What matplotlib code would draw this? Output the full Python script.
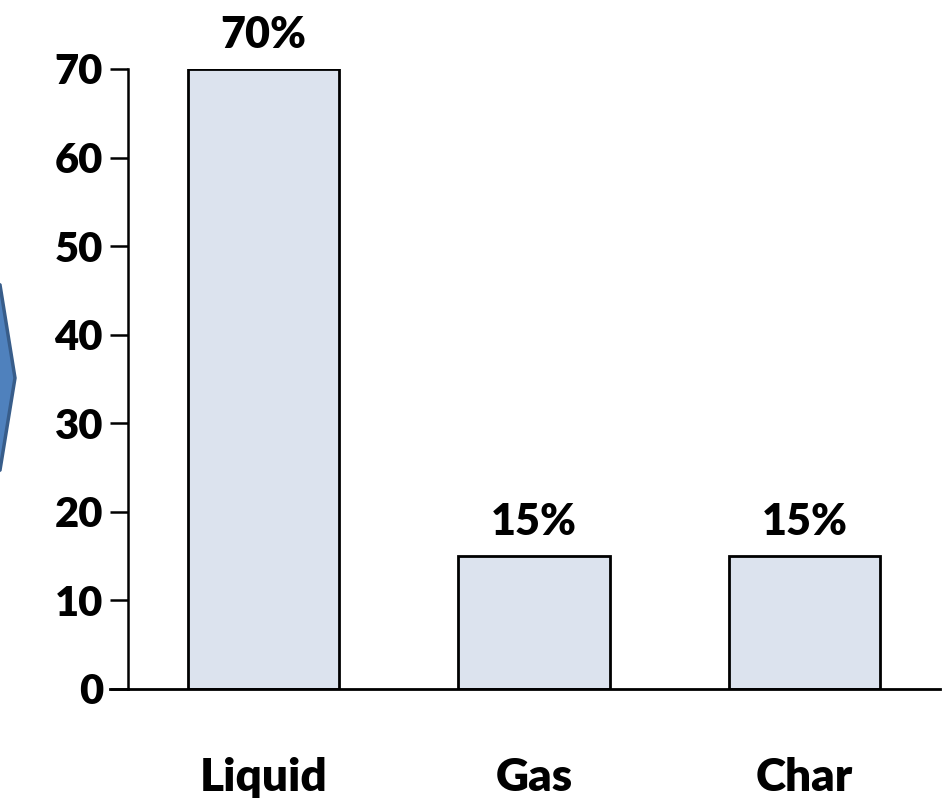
import matplotlib
matplotlib.use("Agg")
import matplotlib.pyplot as plt
from matplotlib.patches import Polygon

categories = ["Liquid", "Gas", "Char"]
values = [70, 15, 15]
value_labels = ["70%", "15%", "15%"]
y_ticks = [0, 10, 20, 30, 40, 50, 60, 70]

plt.rcParams['font.family'] = ['Lato', 'DejaVu Sans']
plt.rcParams['font.weight'] = 'heavy'

W, H = 944, 799
fig = plt.figure(figsize=(W / 100, H / 100), dpi=100)
ax = fig.add_axes([128 / W, (H - 689) / H, (940 - 128) / W, (689 - 69) / H])

x = list(range(len(categories)))
ax.bar(x, values, width=0.56, color="#DCE3EE", edgecolor="black", linewidth=2.0, zorder=2)

for xi, v, lab in zip(x, values, value_labels):
    ax.text(xi, v + 1.6, lab, ha="center", va="bottom", fontsize=31, fontweight="heavy")

ax.set_xlim(-0.5, 2.5)
ax.set_ylim(0, 70)
ax.set_yticks(y_ticks)
ax.set_yticklabels([str(t) for t in y_ticks], fontsize=30, fontweight="heavy")
ax.set_xticks(x)
ax.set_xticklabels(categories, fontsize=33, fontweight="heavy")
ax.tick_params(axis="x", length=0, pad=49)
ax.tick_params(axis="y", length=13, width=1.8, pad=5)

for side in ["top", "right"]:
    ax.spines[side].set_visible(False)
ax.spines["left"].set_linewidth(1.8)
ax.spines["bottom"].set_linewidth(2.0)
ax.spines["bottom"].set_bounds(-0.5, 2.5)

# x axis line runs a bit left of the y axis, like the zero tick
fig.add_artist(plt.Line2D([110 / W, 128 / W], [(H - 689) / H] * 2, color="black", lw=2.0))

# blue chevron cut off at the left edge
arrow = Polygon([(-20 / W, (H - 270) / H), (0, (H - 285) / H), (15 / W, (H - 378) / H),
                 (0, (H - 470) / H), (-20 / W, (H - 485) / H)],
                closed=True, facecolor="#4F81BD", edgecolor="#385D8A", lw=2.5,
                transform=fig.transFigure)
fig.add_artist(arrow)

fig.savefig("out.png", dpi=100)
